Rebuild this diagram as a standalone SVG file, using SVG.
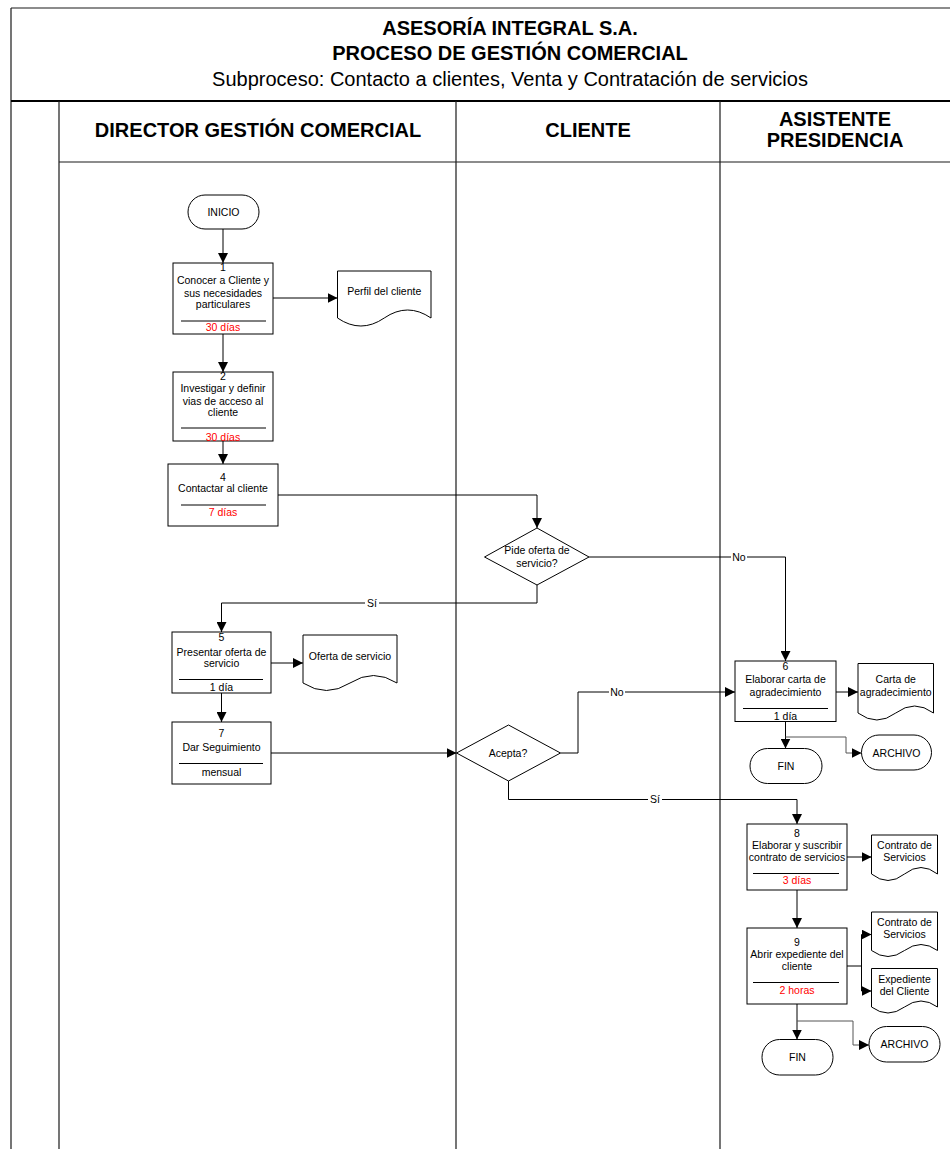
<svg xmlns="http://www.w3.org/2000/svg" width="950" height="1149" viewBox="0 0 950 1149">
  <defs>
    <marker id="arrow" markerUnits="userSpaceOnUse" markerWidth="10" markerHeight="10" refX="10" refY="5" orient="auto">
      <path d="M0,0 L10,5 L0,10 Z" fill="#000"/>
    </marker>
    <style>
      .frame { fill: none; stroke: #1a1a1a; stroke-width: 1.2; }
      .thick { fill: none; stroke: #000; stroke-width: 2.2; }
      .box { fill: #fff; stroke: #000; stroke-width: 1; }
      .sep { stroke: #000; stroke-width: 1; }
      .conn { fill: none; stroke: #000; stroke-width: 1; }
      .arr { marker-end: url(#arrow); }
      .branch { fill: none; stroke: #555; stroke-width: 1; }
      .t { font-family: "Liberation Sans", Arial, sans-serif; font-size: 10.5px; text-anchor: middle; fill: #000; }
      .red { fill: #ff0000; }
      .lbl { font-family: "Liberation Sans", Arial, sans-serif; font-size: 10.5px; text-anchor: middle; fill: #000; }
      .title { font-family: "Liberation Sans", Arial, sans-serif; font-size: 20px; font-weight: bold; text-anchor: middle; fill: #000; }
      .sub { font-family: "Liberation Sans", Arial, sans-serif; font-size: 20px; text-anchor: middle; fill: #000; }
      .lane { font-family: "Liberation Sans", Arial, sans-serif; font-size: 20px; font-weight: bold; text-anchor: middle; fill: #000; }
    </style>
  </defs>

  <rect width="950" height="1149" fill="#fff"/>

  <!-- page frame and swimlanes -->
  <g id="frame">
    <line class="frame" x1="11" y1="8" x2="950" y2="8"/>
    <line class="frame" x1="11" y1="8" x2="11" y2="1149"/>
    <line class="thick" x1="11" y1="101" x2="950" y2="101"/>
    <line class="frame" x1="59" y1="101" x2="59" y2="1149"/>
    <line class="frame" x1="456" y1="101" x2="456" y2="1149"/>
    <line class="frame" x1="720" y1="101" x2="720" y2="1149"/>
    <line class="frame" x1="59" y1="162" x2="950" y2="162"/>
    <text class="title" x="510" y="35">ASESORÍA INTEGRAL S.A.</text>
    <text class="title" x="510" y="60">PROCESO DE GESTIÓN COMERCIAL</text>
    <text class="sub" x="510" y="85.5">Subproceso: Contacto a clientes, Venta y Contratación de servicios</text>
    <text class="lane" x="258" y="137">DIRECTOR GESTIÓN COMERCIAL</text>
    <text class="lane" x="588" y="137">CLIENTE</text>
    <text class="lane" x="835" y="126">ASISTENTE</text>
    <text class="lane" x="835" y="147">PRESIDENCIA</text>
  </g>

  <!-- connectors -->
  <g id="connectors">
    <line class="conn arr" x1="223" y1="229" x2="223" y2="263"/>
    <line class="conn arr" x1="273" y1="298" x2="337.5" y2="298"/>
    <line class="conn arr" x1="223" y1="334" x2="223" y2="372"/>
    <line class="conn arr" x1="223" y1="441" x2="223" y2="464"/>
    <polyline class="conn arr" points="278,495 537,495 537,528"/>
    <polyline class="conn arr" points="589,557 785.5,557 785.5,661"/>
    <polyline class="conn arr" points="537,585 537,603 221.5,603 221.5,632"/>
    <line class="conn arr" x1="271" y1="663" x2="303" y2="663"/>
    <line class="conn arr" x1="221.5" y1="693" x2="221.5" y2="722"/>
    <line class="conn arr" x1="271" y1="753" x2="456.5" y2="753"/>
    <polyline class="conn arr" points="560.5,753 578,753 578,692 735,692"/>
    <polyline class="conn arr" points="508.5,781 508.5,799.5 797,799.5 797,824"/>
    <line class="conn arr" x1="836" y1="692" x2="858" y2="692"/>
    <line class="conn arr" x1="785.5" y1="721.5" x2="785.5" y2="748.5"/>
    <polyline class="branch arr" points="785.5,737 846,737 846,753 861.5,753"/>
    <line class="conn arr" x1="847" y1="857" x2="871.5" y2="857"/>
    <line class="conn arr" x1="797" y1="890" x2="797" y2="928"/>
    <polyline class="conn arr" points="847,966 861.5,966 861.5,934.5 871.5,934.5"/>
    <polyline class="conn arr" points="861.5,966 861.5,991 871.5,991"/>
    <line class="conn arr" x1="797" y1="1004" x2="797" y2="1039.5"/>
    <polyline class="branch arr" points="797,1021 853,1021 853,1045 869,1045"/>
    <!-- connector labels -->
    <rect x="731" y="551" width="16" height="12" fill="#fff"/>
    <text class="lbl" x="739" y="560.5">No</text>
    <rect x="365" y="597" width="14" height="12" fill="#fff"/>
    <text class="lbl" x="372" y="606.5">Sí</text>
    <rect x="609" y="686" width="16" height="12" fill="#fff"/>
    <text class="lbl" x="617" y="695.5">No</text>
    <rect x="648" y="793.5" width="14" height="12" fill="#fff"/>
    <text class="lbl" x="655" y="803">Sí</text>
  </g>

  <!-- Director Gestión Comercial -->
  <g id="inicio">
    <rect class="box" x="188" y="195" width="71" height="34" rx="17"/>
    <text class="t" x="223.5" y="216">INICIO</text>
  </g>
  <g id="paso1">
    <rect class="box" x="173" y="263" width="100" height="71"/>
    <text class="t" x="223" y="271">1</text>
    <text class="t" x="223" y="284">Conocer a Cliente y</text>
    <text class="t" x="223" y="296.5">sus necesidades</text>
    <text class="t" x="223" y="308">particulares</text>
    <line class="sep" x1="181" y1="321" x2="266" y2="321"/>
    <text class="t red" x="223" y="331">30 días</text>
  </g>
  <g id="perfil">
    <path class="box" d="M337.5,318 V271 H431 V318 Q407.6,302 384.25,318 Q360.9,334 337.5,318 Z"/>
    <text class="t" x="384.25" y="295">Perfil del cliente</text>
  </g>
  <g id="paso2">
    <rect class="box" x="173" y="372" width="100" height="69"/>
    <text class="t" x="223" y="380">2</text>
    <text class="t" x="223" y="392">Investigar y definir</text>
    <text class="t" x="223" y="405">vias de acceso al</text>
    <text class="t" x="223" y="416">cliente</text>
    <line class="sep" x1="181" y1="428" x2="266" y2="428"/>
    <text class="t red" x="223" y="440.5">30 días</text>
  </g>
  <g id="paso4">
    <rect class="box" x="168" y="464" width="110" height="62"/>
    <text class="t" x="223" y="481">4</text>
    <text class="t" x="223" y="492">Contactar al cliente</text>
    <line class="sep" x1="181" y1="505" x2="266" y2="505"/>
    <text class="t red" x="223" y="516">7 días</text>
  </g>
  <g id="paso5">
    <rect class="box" x="172" y="632" width="99" height="61"/>
    <text class="t" x="221.5" y="641">5</text>
    <text class="t" x="221.5" y="655.5">Presentar oferta de</text>
    <text class="t" x="221.5" y="667">servicio</text>
    <line class="sep" x1="179" y1="679.5" x2="263" y2="679.5"/>
    <text class="t" x="221.5" y="690.5">1 día</text>
  </g>
  <g id="oferta">
    <path class="box" d="M303,683 V635 H397 V683 Q373.5,668 350,683 Q326.5,698 303,683 Z"/>
    <text class="t" x="350" y="660">Oferta de servicio</text>
  </g>
  <g id="paso7">
    <rect class="box" x="172" y="722" width="99" height="62"/>
    <text class="t" x="221.5" y="737">7</text>
    <text class="t" x="221.5" y="750.5">Dar Seguimiento</text>
    <line class="sep" x1="179" y1="763.5" x2="263" y2="763.5"/>
    <text class="t" x="221.5" y="775.5">mensual</text>
  </g>

  <!-- Cliente -->
  <g id="decision-oferta">
    <polygon class="box" points="537,528 589,557 537,585 484.5,557"/>
    <text class="t" x="537" y="554">Pide oferta de</text>
    <text class="t" x="537" y="566.5">servicio?</text>
  </g>
  <g id="decision-acepta">
    <polygon class="box" points="508.5,725 560.5,753 508.5,781 456.5,753"/>
    <text class="t" x="508" y="757">Acepta?</text>
  </g>

  <!-- Asistente Presidencia -->
  <g id="paso6">
    <rect class="box" x="735" y="661" width="101" height="60.5"/>
    <text class="t" x="785.5" y="670">6</text>
    <text class="t" x="785.5" y="683">Elaborar carta de</text>
    <text class="t" x="785.5" y="695.5">agradecimiento</text>
    <line class="sep" x1="743" y1="708.5" x2="828" y2="708.5"/>
    <text class="t" x="785.5" y="719.5">1 día</text>
  </g>
  <g id="carta">
    <path class="box" d="M858,713 V663.5 H933.5 V713 Q914.6,699 895.75,713 Q876.9,727 858,713 Z"/>
    <text class="t" x="895.75" y="683">Carta de</text>
    <text class="t" x="895.75" y="695.5">agradecimiento</text>
  </g>
  <g id="fin1">
    <rect class="box" x="750" y="748.5" width="72" height="35" rx="17.5"/>
    <text class="t" x="786" y="770">FIN</text>
  </g>
  <g id="archivo1">
    <rect class="box" x="861.5" y="735" width="70" height="35" rx="17.5"/>
    <text class="t" x="896.5" y="756.5">ARCHIVO</text>
  </g>
  <g id="paso8">
    <rect class="box" x="747" y="824" width="100" height="66"/>
    <text class="t" x="797" y="836.5">8</text>
    <text class="t" x="797" y="849">Elaborar y suscribir</text>
    <text class="t" x="797" y="860.5">contrato de servicios</text>
    <line class="sep" x1="753" y1="873.5" x2="839" y2="873.5"/>
    <text class="t red" x="797" y="884">3 días</text>
  </g>
  <g id="contrato1">
    <path class="box" d="M871.5,874 V835 H937.5 V874 Q921,861 904.5,874 Q888,887 871.5,874 Z"/>
    <text class="t" x="904.5" y="849">Contrato de</text>
    <text class="t" x="904.5" y="860.5">Servicios</text>
  </g>
  <g id="paso9">
    <rect class="box" x="747" y="928" width="100" height="76"/>
    <text class="t" x="797" y="945.5">9</text>
    <text class="t" x="797" y="958">Abrir expediente del</text>
    <text class="t" x="797" y="969.5">cliente</text>
    <line class="sep" x1="753" y1="982.5" x2="839" y2="982.5"/>
    <text class="t red" x="797" y="994">2 horas</text>
  </g>
  <g id="contrato2">
    <path class="box" d="M871.5,950.5 V912 H937.5 V950.5 Q921,938.5 904.5,950.5 Q888,962.5 871.5,950.5 Z"/>
    <text class="t" x="904.5" y="926">Contrato de</text>
    <text class="t" x="904.5" y="938">Servicios</text>
  </g>
  <g id="expediente">
    <path class="box" d="M871.5,1007 V968.5 H937.5 V1007 Q921,995 904.5,1007 Q888,1019 871.5,1007 Z"/>
    <text class="t" x="904.5" y="983">Expediente</text>
    <text class="t" x="904.5" y="995">del Cliente</text>
  </g>
  <g id="fin2">
    <rect class="box" x="762" y="1039.5" width="71" height="35.5" rx="17.5"/>
    <text class="t" x="797.5" y="1061">FIN</text>
  </g>
  <g id="archivo2">
    <rect class="box" x="869" y="1026.5" width="71" height="35.5" rx="17.5"/>
    <text class="t" x="904.5" y="1048">ARCHIVO</text>
  </g>
</svg>
